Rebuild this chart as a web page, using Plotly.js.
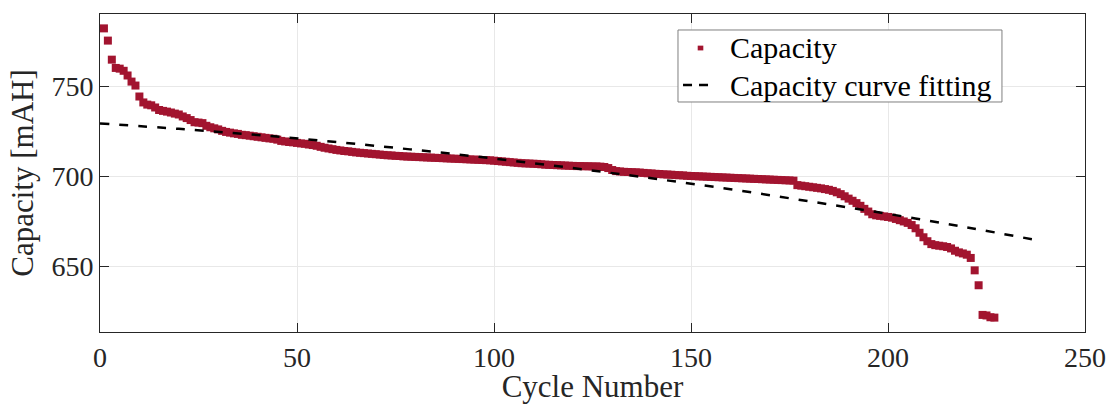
<!DOCTYPE html>
<html>
<head>
<meta charset="utf-8">
<script src="https://cdn.plot.ly/plotly-3.0.1.min.js"></script>
<style>html,body{margin:0;padding:0;background:#fff}#chart{width:1113px;height:404px}</style>
</head>
<body>
<div id="chart"></div>
<script>
// Measured capacity per cycle (cycles 1..227)
const capacity = [
782.2,775.4,764.8,760.2,759.8,758.6,756.0,752.6,750.4,744.3,
741.0,739.8,739.4,738.2,736.8,736.3,735.9,735.4,734.8,734.3,
733.2,732.3,731.2,730.0,729.8,729.5,728.0,727.2,726.6,726.0,
725.2,724.6,724.2,723.8,723.5,723.0,722.8,722.5,722.2,721.9,
721.6,721.3,721.0,720.8,720.3,719.6,719.3,719.0,718.8,718.5,
718.2,718.0,717.6,717.3,716.9,716.3,715.8,715.4,715.0,714.6,
714.3,714.0,713.8,713.5,713.2,713.0,712.8,712.6,712.4,712.2,
712.0,711.8,711.6,711.5,711.3,711.2,711.0,710.9,710.8,710.7,
710.6,710.5,710.4,710.3,710.2,710.1,710.0,709.9,709.8,709.7,
709.6,709.5,709.4,709.3,709.2,709.1,709.0,708.9,708.8,708.6,
708.4,708.2,708.0,707.8,707.6,707.4,707.2,707.1,707.0,706.9,
706.8,706.6,706.4,706.3,706.2,706.1,706.0,705.9,705.8,705.7,
705.6,705.6,705.5,705.5,705.4,705.4,705.3,705.1,704.5,703.4,
702.8,702.6,702.4,702.3,702.2,702.1,702.0,701.8,701.6,701.5,
701.3,701.2,701.0,700.9,700.8,700.6,700.5,700.4,700.2,700.1,
700.0,699.9,699.8,699.7,699.6,699.5,699.4,699.3,699.2,699.1,
699.0,698.9,698.8,698.7,698.6,698.5,698.4,698.3,698.2,698.1,
698.0,697.9,697.8,697.7,697.6,697.5,695.0,694.7,694.4,694.1,
693.8,693.5,693.2,692.8,692.4,691.8,691.0,690.0,688.8,687.5,
686.3,685.0,683.5,681.8,680.3,678.8,678.2,677.9,677.6,677.3,
676.9,676.2,675.5,674.8,674.0,672.8,671.0,668.5,666.0,663.8,
662.2,661.6,661.3,661.0,660.6,659.8,658.5,657.6,657.0,656.3,
654.5,647.6,639.3,622.8,622.5,621.5,621.3
];
const cycles = capacity.map((_, i) => i + 1);

// Fitted curve
const fitCycles = [0,20,40,60,80,100,120,140,160,180,200,220,239];
const fitCapacity = [729.3,726.3,722.9,719.0,714.6,709.8,704.5,698.8,692.7,686.0,679.0,671.5,663.9];

const xTicks = [0,50,100,150,200,250];
const yTicks = [650,700,750];
const legendLabels = ['Capacity', 'Capacity curve fitting'];

const textColor = '#262626';
const markerColor = '#A2142F';
const font = 'Liberation Serif, Times New Roman, serif';

const data = [
  {
    x: cycles, y: capacity, type: 'scatter', mode: 'markers', name: legendLabels[0],
    marker: {symbol: 'square', size: 8, color: markerColor}
  },
  {
    x: fitCycles, y: fitCapacity, type: 'scatter', mode: 'lines', name: legendLabels[1],
    line: {color: '#000000', width: 2.5, dash: '9px,10px', shape: 'spline'}
  }
];

const axisCommon = {
  showline: true, linecolor: textColor, linewidth: 1, mirror: 'allticks',
  ticks: 'inside', ticklen: 9, tickcolor: textColor, tickwidth: 1,
  showgrid: true, gridcolor: '#e8e8e8', gridwidth: 1, zeroline: false,
  tickfont: {family: font, size: 28, color: textColor}
};

// Legend box drawn in paper coordinates
const shapes = [
  {type: 'rect', xref: 'paper', yref: 'paper', x0: 0.5868, x1: 0.9157, y0: 0.7233, y1: 0.9497,
   line: {color: '#7f7f7f', width: 1}, fillcolor: '#ffffff', layer: 'above'},
  {type: 'rect', xref: 'paper', yref: 'paper', x0: 0.6068, x1: 0.6125, y0: 0.8855, y1: 0.9005,
   line: {width: 0}, fillcolor: markerColor, layer: 'above'},
  {type: 'line', xref: 'paper', yref: 'paper', x0: 0.5919, x1: 0.6213, y0: 0.7767, y1: 0.7767,
   line: {color: '#000000', width: 2.5, dash: '9px,7px'}, layer: 'above'}
];

const annotations = [
  {xref: 'paper', yref: 'paper', x: 0.6375, y: 0.8931, xanchor: 'left', yanchor: 'middle',
   text: legendLabels[0], showarrow: false, font: {family: font, size: 30, color: '#000'}},
  {xref: 'paper', yref: 'paper', x: 0.6375, y: 0.7767, xanchor: 'left', yanchor: 'middle',
   text: legendLabels[1], showarrow: false, font: {family: font, size: 30, color: '#000'}}
];

const layout = {
  width: 1113, height: 404,
  margin: {l: 100, r: 28, t: 14, b: 72},
  paper_bgcolor: '#fff', plot_bgcolor: '#fff',
  showlegend: false,
  xaxis: Object.assign({}, axisCommon, {
    range: [0, 250], tickvals: xTicks, ticktext: xTicks.map(String),
    title: {text: 'Cycle Number', font: {family: font, size: 31, color: textColor}, standoff: 1}
  }),
  yaxis: Object.assign({}, axisCommon, {
    range: [613.3, 790.2], tickvals: yTicks, ticktext: yTicks.map(String),
    title: {text: 'Capacity [mAH]', font: {family: font, size: 31, color: textColor}, standoff: 8}
  }),
  shapes: shapes,
  annotations: annotations
};

Plotly.newPlot('chart', data, layout, {displayModeBar: false, staticPlot: true});
</script>
</body>
</html>
